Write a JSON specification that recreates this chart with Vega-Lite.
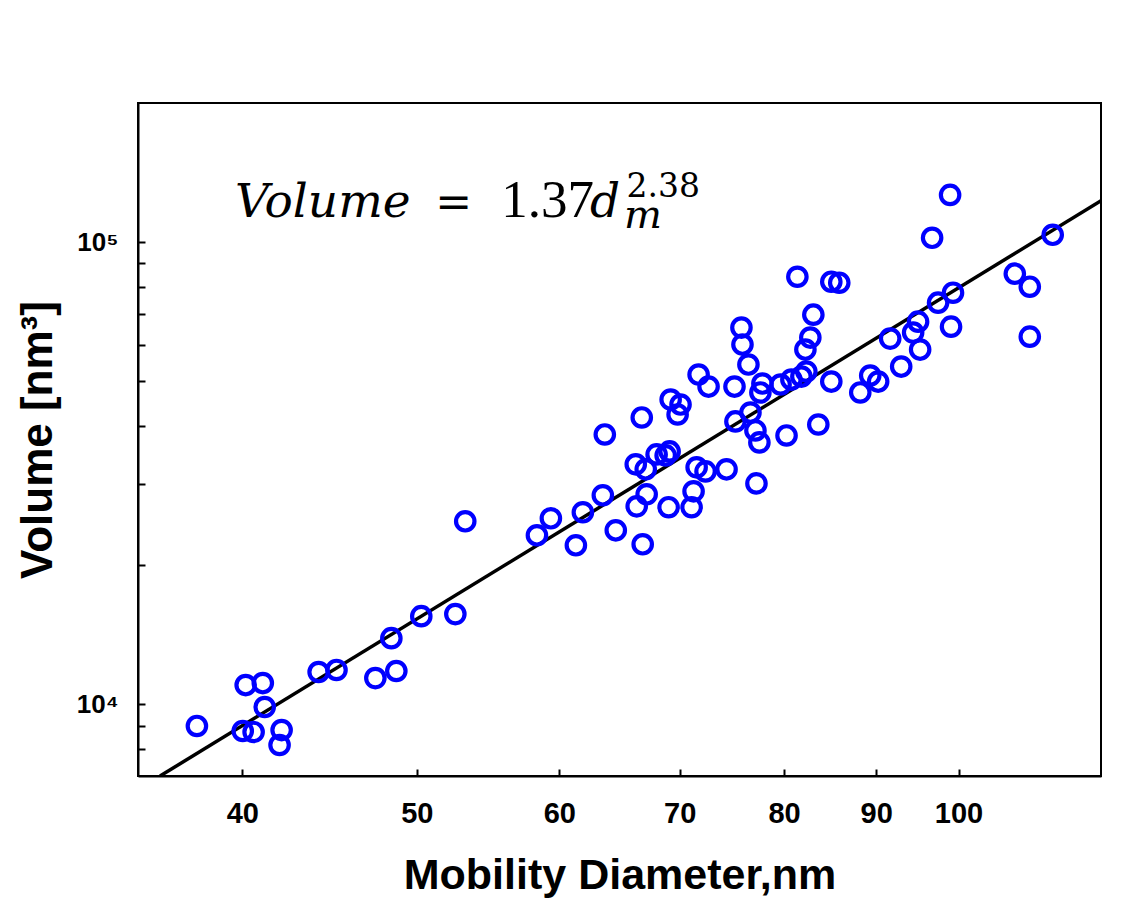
{
  "$schema": "https://vega.github.io/schema/vega-lite/v6.json",
  "width": 963,
  "height": 673,
  "autosize": "none",
  "padding": {"left": 138, "top": 103, "right": 38, "bottom": 125},
  "background": "white",
  "config": {
    "view": {"stroke": "black", "strokeWidth": 2},
    "axis": {
      "grid": false,
      "domainColor": "black",
      "domainWidth": 2,
      "tickColor": "black",
      "tickWidth": 2,
      "tickSize": -7,
      "labelColor": "black",
      "labelFont": "Liberation Sans",
      "labelFontWeight": "bold",
      "titleColor": "black",
      "titleFont": "Liberation Sans",
      "titleFontWeight": "bold"
    }
  },
  "datasets": {
    "points": [
      {"d": 37.74, "v": 8980}, {"d": 40.02, "v": 8760}, {"d": 40.58, "v": 8716},
      {"d": 40.17, "v": 11010}, {"d": 41.06, "v": 11120}, {"d": 41.16, "v": 9870},
      {"d": 42.06, "v": 8800}, {"d": 41.95, "v": 8170}, {"d": 44.10, "v": 11750},
      {"d": 45.12, "v": 11870}, {"d": 47.42, "v": 11400}, {"d": 48.71, "v": 11810},
      {"d": 48.40, "v": 13910}, {"d": 50.29, "v": 15520}, {"d": 52.53, "v": 15680},
      {"d": 53.20, "v": 24900}, {"d": 58.31, "v": 23220}, {"d": 59.36, "v": 25270},
      {"d": 61.29, "v": 22090}, {"d": 61.84, "v": 26040}, {"d": 63.44, "v": 28340},
      {"d": 64.50, "v": 23800}, {"d": 66.76, "v": 22200}, {"d": 66.25, "v": 26820},
      {"d": 67.10, "v": 28480}, {"d": 69.01, "v": 26700}, {"d": 71.07, "v": 26700},
      {"d": 71.25, "v": 28900}, {"d": 63.60, "v": 38370}, {"d": 66.68, "v": 41760},
      {"d": 66.17, "v": 33060}, {"d": 67.02, "v": 32250}, {"d": 67.96, "v": 34740},
      {"d": 68.75, "v": 34570}, {"d": 69.10, "v": 35260}, {"d": 71.53, "v": 32570},
      {"d": 72.35, "v": 31920}, {"d": 74.32, "v": 32250}, {"d": 69.19, "v": 45660},
      {"d": 70.07, "v": 44540}, {"d": 69.81, "v": 42380}, {"d": 71.71, "v": 51710},
      {"d": 72.63, "v": 48700}, {"d": 75.08, "v": 48700}, {"d": 75.75, "v": 65330},
      {"d": 75.85, "v": 60040}, {"d": 76.43, "v": 54350}, {"d": 75.17, "v": 40940},
      {"d": 76.63, "v": 42800}, {"d": 77.12, "v": 39140}, {"d": 77.51, "v": 36880},
      {"d": 77.22, "v": 30070}, {"d": 80.25, "v": 38180}, {"d": 83.58, "v": 40320},
      {"d": 77.81, "v": 49450}, {"d": 77.61, "v": 47290}, {"d": 79.64, "v": 49210},
      {"d": 80.75, "v": 50430}, {"d": 81.79, "v": 51190}, {"d": 82.31, "v": 52470},
      {"d": 84.98, "v": 49930}, {"d": 82.21, "v": 58560}, {"d": 82.73, "v": 62160},
      {"d": 83.05, "v": 69680}, {"d": 81.37, "v": 84170}, {"d": 84.98, "v": 82110},
      {"d": 85.85, "v": 81710}, {"d": 88.19, "v": 47290}, {"d": 89.32, "v": 51450},
      {"d": 90.23, "v": 49930}, {"d": 91.63, "v": 61850}, {"d": 92.93, "v": 53810},
      {"d": 94.36, "v": 63730}, {"d": 94.96, "v": 67300}, {"d": 95.21, "v": 58560},
      {"d": 97.42, "v": 73970}, {"d": 99.30, "v": 77740}, {"d": 99.05, "v": 65650},
      {"d": 96.68, "v": 102190}, {"d": 98.93, "v": 126540}, {"d": 107.47, "v": 85460},
      {"d": 109.55, "v": 80100}, {"d": 109.55, "v": 62460}, {"d": 112.81, "v": 103730}
    ],
    "fit": [
      {"d": 36.0, "v": 7000},
      {"d": 120.0, "v": 122900}
    ]
  },
  "layer": [
    {
      "data": {"name": "fit"},
      "mark": {"type": "line", "color": "black", "strokeWidth": 3.5, "clip": true},
      "encoding": {
        "x": {
          "field": "d", "type": "quantitative",
          "scale": {"type": "log", "domain": [35, 120], "nice": false, "zero": false},
          "axis": {
            "title": "Mobility Diameter,nm",
            "values": [40, 50, 60, 70, 80, 90, 100],
            "format": "d",
            "labelFontSize": 29,
            "labelPadding": 30,
            "titleFontSize": 43,
            "titlePadding": 26
          }
        },
        "y": {
          "field": "v", "type": "quantitative",
          "scale": {"type": "log", "domain": [7000, 200000], "nice": false, "zero": false},
          "axis": {
            "title": "Volume [nm³]",
            "values": [8000, 9000, 10000, 20000, 30000, 40000, 50000, 60000, 70000, 80000, 90000, 100000],
            "labelExpr": "datum.value == 10000 ? '10⁴' : (datum.value == 100000 ? '10⁵' : '')",
            "labelFontSize": 26,
            "labelPadding": 27,
            "titleFontSize": 44,
            "titlePadding": 16
          }
        }
      }
    },
    {
      "data": {"name": "points"},
      "mark": {"type": "point", "shape": "circle", "filled": false, "color": "#0000FF", "strokeWidth": 4.2, "size": 340, "opacity": 1, "clip": true},
      "encoding": {
        "x": {"field": "d", "type": "quantitative"},
        "y": {"field": "v", "type": "quantitative"}
      }
    },
    {
      "data": {"values": [{"label": "Volume", "d": 39.62, "v": 113400}]},
      "mark": {"type": "text", "align": "left", "baseline": "alphabetic", "font": "DejaVu Serif", "fontStyle": "italic", "fontSize": 47, "color": "black"},
      "encoding": {"x": {"field": "d", "type": "quantitative"}, "y": {"field": "v", "type": "quantitative"}, "text": {"field": "label"}}
    },
    {
      "data": {"values": [{"label": "=", "d": 51.2, "v": 113400}]},
      "mark": {"type": "text", "align": "left", "baseline": "alphabetic", "font": "DejaVu Serif", "fontSize": 44, "color": "black"},
      "encoding": {"x": {"field": "d", "type": "quantitative"}, "y": {"field": "v", "type": "quantitative"}, "text": {"field": "label"}}
    },
    {
      "data": {"values": [{"label": "1.37", "d": 55.71, "v": 113400}]},
      "mark": {"type": "text", "align": "left", "baseline": "alphabetic", "font": "Liberation Serif", "fontSize": 53, "color": "black"},
      "encoding": {"x": {"field": "d", "type": "quantitative"}, "y": {"field": "v", "type": "quantitative"}, "text": {"field": "label"}}
    },
    {
      "data": {"values": [{"label": "d", "d": 62.4, "v": 113400}]},
      "mark": {"type": "text", "align": "left", "baseline": "alphabetic", "font": "DejaVu Serif", "fontStyle": "italic", "fontSize": 47, "color": "black"},
      "encoding": {"x": {"field": "d", "type": "quantitative"}, "y": {"field": "v", "type": "quantitative"}, "text": {"field": "label"}}
    },
    {
      "data": {"values": [{"label": "m", "d": 65.18, "v": 107400}]},
      "mark": {"type": "text", "align": "left", "baseline": "alphabetic", "font": "DejaVu Serif", "fontStyle": "italic", "fontSize": 40, "color": "black"},
      "encoding": {"x": {"field": "d", "type": "quantitative"}, "y": {"field": "v", "type": "quantitative"}, "text": {"field": "label"}}
    },
    {
      "data": {"values": [{"label": "2.38", "d": 65.4, "v": 125300}]},
      "mark": {"type": "text", "align": "left", "baseline": "alphabetic", "font": "DejaVu Serif", "fontSize": 33, "color": "black"},
      "encoding": {"x": {"field": "d", "type": "quantitative"}, "y": {"field": "v", "type": "quantitative"}, "text": {"field": "label"}}
    }
  ]
}
